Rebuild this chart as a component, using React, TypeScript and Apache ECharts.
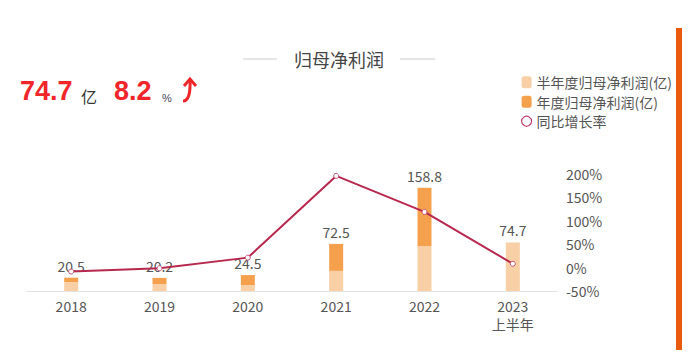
import React, { useEffect, useRef } from "react";
import * as echarts from "echarts";

const categories = ["2018", "2019", "2020", "2021", "2022", "2023\n上半年"];
const halfYear = [13.8, 10.7, 9.2, 31.0, 69.0, 74.7];
const annualTotal = [20.5, 20.2, 24.5, 72.5, 158.8, null];
const growth = [-8.5, -1.5, 21.3, 195.9, 119.0, 8.2];
const rightTicks = [-50, 200, 50];

const FONT = "'Noto Sans CJK SC', 'Noto Sans', sans-serif";
const LIGHT = "#f9cfa5";
const DARK = "#f4a04c";
const LINE = "#b8274e";
const RED = "#f0262a";

export default function App() {
  const ref = useRef<HTMLDivElement>(null);
  useEffect(() => {
    document.body.style.margin = "0";
    const chart = echarts.init(ref.current!, null, { renderer: "svg" });
    const remainder = annualTotal.map((t, i) => (t == null ? null : +(t - halfYear[i]).toFixed(1)));
    const labelStyle = { color: "#555", fontSize: 14, fontFamily: FONT };
    chart.setOption({
      animation: false,
      textStyle: { fontFamily: FONT },
      grid: { left: 27, right: 134, top: 174, bottom: 71 },
      legend: {
        orient: "vertical",
        left: 516,
        top: 70,
        itemWidth: 10,
        itemHeight: 12,
        itemGap: 5,
        textStyle: { color: "#555", fontSize: 14, lineHeight: 14.5, fontFamily: FONT },
        data: [
          { name: "半年度归母净利润(亿)", icon: "roundRect" },
          { name: "年度归母净利润(亿)", icon: "roundRect" },
          {
            name: "同比增长率",
            icon: "circle",
            itemStyle: { color: "#fff", borderColor: "#c0446a", borderWidth: 1.2 },
          },
        ],
      },
      xAxis: {
        type: "category",
        data: categories,
        axisLine: { lineStyle: { color: "#e3e3e3" } },
        axisTick: { show: false },
        axisLabel: { color: "#555", fontSize: 14, fontFamily: FONT, margin: 6, lineHeight: 18 },
      },
      yAxis: [
        { type: "value", min: 0, max: 180, show: false, splitLine: { show: false } },
        {
          type: "value",
          min: rightTicks[0],
          max: rightTicks[1],
          interval: rightTicks[2],
          position: "right",
          splitLine: { show: false },
          axisLine: { show: false },
          axisTick: { show: false },
          axisLabel: { color: "#555", fontSize: 14, fontFamily: FONT, margin: 9, formatter: "{value}%" },
        },
      ],
      series: [
        {
          name: "半年度归母净利润(亿)",
          type: "bar",
          stack: "p",
          barWidth: 14,
          itemStyle: { color: LIGHT },
          data: halfYear.map((v, i) =>
            i === categories.length - 1
              ? { value: v, label: { show: true, position: "top", distance: 5, ...labelStyle } }
              : v
          ),
        },
        {
          name: "年度归母净利润(亿)",
          type: "bar",
          stack: "p",
          barWidth: 14,
          itemStyle: { color: DARK },
          label: {
            show: true,
            position: "top",
            distance: 5,
            ...labelStyle,
            formatter: (p: any) => String(annualTotal[p.dataIndex]),
          },
          data: remainder,
        },
        {
          name: "同比增长率",
          type: "line",
          yAxisIndex: 1,
          symbol: "circle",
          symbolSize: 5,
          z: 5,
          lineStyle: { color: LINE, width: 2 },
          itemStyle: { color: "#fff", borderColor: "#c9507a", borderWidth: 1 },
          data: growth,
        },
      ],
      graphic: [
        { type: "line", shape: { x1: 243, y1: 59, x2: 277, y2: 59 }, style: { stroke: "#cccccc", lineWidth: 1 } },
        { type: "line", shape: { x1: 400, y1: 59, x2: 435, y2: 59 }, style: { stroke: "#cccccc", lineWidth: 1 } },
        {
          type: "text",
          x: 339,
          y: 59,
          style: { text: "归母净利润", fill: "#444", fontSize: 18, fontFamily: FONT, align: "center", verticalAlign: "middle" },
        },
        {
          type: "text",
          x: 20,
          y: 104,
          style: { text: "74.7", fill: RED, fontSize: 27, fontWeight: "bold", fontFamily: "'Liberation Sans', Arial, sans-serif", verticalAlign: "bottom" },
        },
        {
          type: "text",
          x: 81,
          y: 104,
          style: { text: "亿", fill: "#333", fontSize: 16, fontFamily: FONT, verticalAlign: "bottom" },
        },
        {
          type: "text",
          x: 114,
          y: 104,
          style: { text: "8.2", fill: RED, fontSize: 27, fontWeight: "bold", fontFamily: "'Liberation Sans', Arial, sans-serif", verticalAlign: "bottom" },
        },
        {
          type: "text",
          x: 162,
          y: 103,
          style: { text: "%", fill: "#445", fontSize: 11, fontFamily: "'Liberation Sans Narrow', 'Liberation Sans', sans-serif", verticalAlign: "bottom" },
        },
        {
          type: "polyline",
          shape: { points: [[184, 86], [190, 79], [196, 86]] },
          style: { stroke: RED, lineWidth: 3, fill: null },
        },
        {
          type: "bezierCurve",
          shape: { x1: 190, y1: 79, x2: 183, y2: 101, cpx1: 191, cpy1: 101 },
          style: { stroke: RED, lineWidth: 3, fill: null },
        },
        { type: "rect", shape: { x: 676, y: 28, width: 6, height: 322 }, style: { fill: "#ea5a0c" } },
      ],
    });
    return () => chart.dispose();
  }, []);
  return <div ref={ref} style={{ width: 691, height: 362 }} />;
}
